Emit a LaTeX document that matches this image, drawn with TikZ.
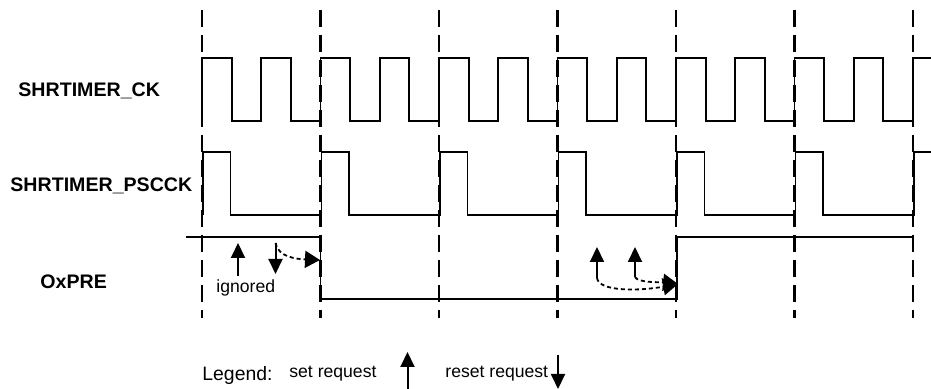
\documentclass[tikz,border=0pt]{standalone}
\usepackage{fontspec}
\setmainfont{Liberation Sans}
\usepackage{tikz}
\usetikzlibrary{arrows.meta,positioning,calc}
\tikzset{
    signame/.style={
        font=\fontsize{9.8}{11}\selectfont\bfseries,
        inner sep=0pt,
        anchor=base west
    },
    smalltext/.style={
        font=\fontsize{8.8}{10}\selectfont,
        inner sep=0pt,
        anchor=base west
    },
    legendtext/.style={
        smalltext,
        font=\fontsize{9.7}{11}\selectfont
    },
    wave/.style={
        line width=0.9pt,
        line join=miter
    },
    gridline/.style={
        line width=1.2pt,
        dash pattern=on 8.5pt off 4pt
    },
    request/.style={
        line width=1pt,
        -{Triangle[length=7.5pt,width=7pt]}
    },
    delay/.style={
        line width=0.9pt,
        dash pattern=on 2pt off 1.5pt,
        -{Triangle[length=7.5pt,width=8.5pt]}
    }
}

\begin{document}
\begin{tikzpicture}[x=0.5pt,y=-0.5pt]
    \useasboundingbox (0,0) rectangle (931,389);

    % Signal names
    \node[signame] (ck) at (18,96.7) {SHRTIMER\_CK};
    \node[signame] (pscck) at (10,191.7) {SHRTIMER\_PSCCK};
    \node[signame] (oxpre) at (40,288.3) {OxPRE};

    % Time grid
    \foreach \k in {0,...,6}
        \draw[gridline] ({202+118.5*\k},10) -- ++(0,308);

    % SHRTIMER_CK
    \draw[wave] (202,121)
        \foreach \i in {1,...,12} {
            -- ++(0,-63) -- ++(29.625,0) -- ++(0,63) -- ++(29.625,0)
        } -- ++(0,-63) -- (931,58);

    % SHRTIMER_PSCCK
    \draw[wave] (203,215)
        \foreach \i in {1,...,6} {
            -- ++(0,-63) -- ++(27.5,0) -- ++(0,63) -- ++(91,0)
        } -- ++(0,-63) -- (931,152);

    % OxPRE
    \draw[wave] (186,237) -- (320.5,237) -- (320.5,299)
        -- (677,299) -- (677,237) -- (913,237);

    % Requests, first period
    \coordinate (setA_b) at (238,276);
    \coordinate (setA_t) at (238,243);
    \coordinate (rstA_t) at (275.5,243);
    \coordinate (rstA_b) at (275.5,274);
    \coordinate (fallEdge) at (320,260);
    \draw[request] (setA_b) -- (setA_t);
    \draw[request] (rstA_t) -- (rstA_b);
    \draw[delay] (rstA_t) .. controls (278,257) and (296,259) .. (fallEdge);
    \node[smalltext] (ignored) at (216,293) {ignored};

    % Requests, fourth period
    \coordinate (setB_b) at (597,278);
    \coordinate (setB_t) at (597,247);
    \coordinate (setC_b) at (635,277);
    \coordinate (setC_t) at (635,247);
    \coordinate (riseEdge) at (678,284);
    \draw[request] (setB_b) -- (setB_t);
    \draw[request] (setC_b) -- (setC_t);
    \draw[delay] (setB_b) .. controls (599,292) and (640,291) .. (riseEdge);
    \draw[delay] (setC_b) .. controls (638,283) and (660,282) .. (riseEdge);

    % Legend
    \node[legendtext] (legend) at (202,380) {Legend:};
    \node[smalltext] (setreq) at (289,378) {set request};
    \node[smalltext] (resetreq) at (445,378) {reset request};
    \coordinate (lgSet_b) at (407.5,395);
    \coordinate (lgSet_t) at (407.5,352);
    \coordinate (lgRst_t) at (558,355);
    \coordinate (lgRst_b) at (558,389);
    \draw[request] (lgSet_b) -- (lgSet_t);
    \draw[request] (lgRst_t) -- (lgRst_b);
\end{tikzpicture}
\end{document}
